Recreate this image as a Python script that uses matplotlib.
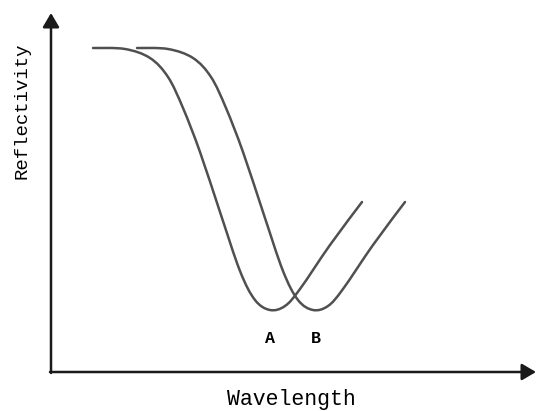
import matplotlib
matplotlib.use('Agg')
import matplotlib.pyplot as plt
import numpy as np
from matplotlib.path import Path
from matplotlib.patches import PathPatch

# Curva A (coordenadas del dibujo, y hacia abajo)
ax_a = [93, 125, 150, 168, 183, 200, 220, 240, 255, 270, 285, 300, 330, 362]
ay_a = [48, 49, 58, 77, 108, 152, 212, 271, 300, 310, 306, 289, 245, 202]

# Curva B
ax_b = [137, 168, 193, 211, 226, 243, 263, 283, 298, 313, 328, 343, 373, 405]
ay_b = [48, 49, 58, 77, 108, 152, 212, 271, 300, 310, 306, 289, 245, 202]

etiquetas = ['A', 'B']
pos_etiquetas = [(270, 338), (316, 338)]


def trazo_suave(xs, ys):
    # Path de Bezier cubicas que pasa por los puntos (Catmull-Rom)
    p = np.column_stack([xs, ys]).astype(float)
    verts = [p[0]]
    codes = [Path.MOVETO]
    n = len(p)
    for i in range(n - 1):
        p0 = p[max(i - 1, 0)]
        p1 = p[i]
        p2 = p[i + 1]
        p3 = p[min(i + 2, n - 1)]
        c1 = p1 + (p2 - p0) / 6.0
        c2 = p2 - (p3 - p1) / 6.0
        verts += [c1, c2, p2]
        codes += [Path.CURVE4] * 3
    return Path(verts, codes)


fig = plt.figure(figsize=(5.36, 4.11), dpi=100)
ax = fig.add_axes([0, 0, 1, 1])
ax.set_xlim(0, 536)
ax.set_ylim(411, 0)
ax.axis('off')

fuente = 'Liberation Mono'

# Ejes con flechas
estilo = '-|>,head_length=0.85,head_width=0.5'
ax.annotate('', xy=(51, 13), xytext=(51, 373),
            arrowprops=dict(arrowstyle=estilo, color='#1a1a1a', lw=1.8, shrinkA=0, shrinkB=0))
ax.annotate('', xy=(536, 372), xytext=(50, 372),
            arrowprops=dict(arrowstyle=estilo, color='#1a1a1a', lw=1.8, shrinkA=0, shrinkB=0))

# Curvas
for xs, ys in [(ax_a, ay_a), (ax_b, ay_b)]:
    ax.add_patch(PathPatch(trazo_suave(xs, ys), facecolor='none', edgecolor='#505050',
                           lw=1.8, capstyle='round', joinstyle='round'))

for txt, (x, y) in zip(etiquetas, pos_etiquetas):
    ax.text(x, y, txt, fontsize=12, family=fuente, weight='bold', ha='center', va='center')

ax.text(291, 399, 'Wavelength', fontsize=15.5, family=fuente, color='black',
        ha='center', va='center')
ax.text(22, 111, 'Reflectivity', fontsize=13.7, family=fuente, color='black',
        rotation=90, ha='center', va='center')

fig.savefig('out.png', dpi=100)
